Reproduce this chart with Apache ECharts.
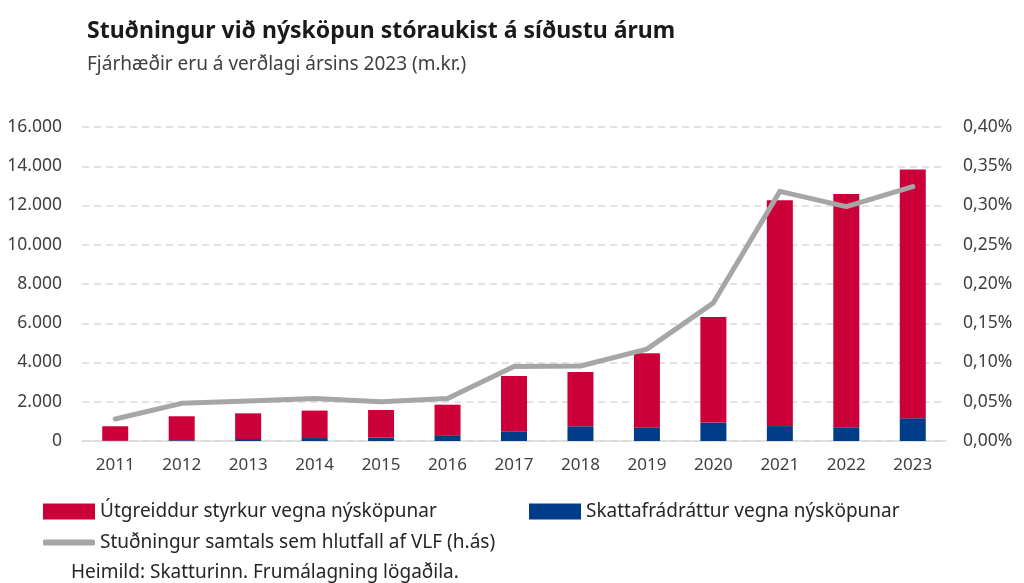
<!DOCTYPE html>
<html>
<head>
<meta charset="utf-8">
<script src="https://cdn.jsdelivr.net/npm/echarts@6/dist/echarts.min.js"></script>
<style>
  html, body { margin: 0; padding: 0; background: #fff; }
  #chart { width: 1024px; height: 583px; }
</style>
</head>
<body>
<div id="chart"></div>
<script>
// ár
var years = ['2011','2012','2013','2014','2015','2016','2017','2018','2019','2020','2021','2022','2023'];
// m.kr.
var styrkur = [740, 1220, 1310, 1400, 1410, 1590, 2820, 2770, 3790, 5380, 11510, 11890, 12670];
var skattafradrattur = [10, 40, 100, 150, 170, 260, 490, 750, 680, 940, 760, 700, 1160];
// % af VLF
var hlutfallVLF = [0.028, 0.048, 0.051, 0.054, 0.050, 0.054, 0.095, 0.0955, 0.117, 0.176, 0.318, 0.2985, 0.324];

var FONT = 'Noto Sans';
var chart = echarts.init(document.getElementById('chart'));

function thousands(v) {
  return String(v).replace(/\B(?=(\d{3})+(?!\d))/g, '.');
}

var legendText = { fontFamily: FONT, fontSize: 19, color: '#262626' };

chart.setOption({
  backgroundColor: '#fff',
  animation: false,
  title: [{
    text: 'Stuðningur við nýsköpun stóraukist á síðustu árum',
    left: 82, top: 15,
    textStyle: { fontFamily: FONT, fontSize: 23, fontWeight: 'bold', color: '#1a1a1a' }
  }, {
    text: 'Fjárhæðir eru á verðlagi ársins 2023 (m.kr.)',
    left: 82, top: 50,
    textStyle: { fontFamily: FONT, fontSize: 19, fontWeight: 'normal', color: '#404040' }
  }, {
    text: 'Heimild: Skatturinn. Frumálagning lögaðila.',
    left: 66, top: 558,
    textStyle: { fontFamily: FONT, fontSize: 19, fontWeight: 'normal', color: '#262626' }
  }],
  legend: [{
    data: ['Útgreiddur styrkur vegna nýsköpunar'],
    left: 38, top: 497,
    itemWidth: 52, itemHeight: 16, itemGap: 4,
    icon: 'rect',
    textStyle: legendText
  }, {
    data: ['Skattafrádráttur vegna nýsköpunar'],
    left: 524, top: 497,
    itemWidth: 52, itemHeight: 16,
    icon: 'rect',
    textStyle: legendText
  }, {
    data: ['Stuðningur samtals sem hlutfall af VLF (h.ás)'],
    left: 38, top: 528,
    itemWidth: 52, itemHeight: 6,
    icon: 'roundRect',
    textStyle: legendText
  }],
  grid: { left: 82, right: 78, top: 127, bottom: 142 },
  xAxis: {
    type: 'category',
    data: years,
    axisTick: { show: false },
    axisLine: { lineStyle: { color: '#d9d9d9', width: 1.5 } },
    axisLabel: { fontFamily: FONT, fontSize: 17, color: '#404040', margin: 16 }
  },
  yAxis: [{
    type: 'value',
    min: 0, max: 16000, interval: 2000,
    axisLabel: {
      fontFamily: FONT, fontSize: 17.5, color: '#404040', margin: 20,
      formatter: function (v) { return thousands(v); }
    },
    splitLine: { lineStyle: { color: '#d9d9d9', type: [7, 5], width: 1.5 } }
  }, {
    type: 'value',
    min: 0, max: 0.4, interval: 0.05,
    axisLabel: {
      fontFamily: FONT, fontSize: 17.5, color: '#404040', margin: 17,
      formatter: function (v) { return v.toFixed(2).replace('.', ',') + '%'; }
    },
    splitLine: { show: false }
  }],
  series: [{
    name: 'Skattafrádráttur vegna nýsköpunar',
    type: 'bar',
    stack: 'total',
    barWidth: 26,
    data: skattafradrattur,
    itemStyle: { color: '#003c88' }
  }, {
    name: 'Útgreiddur styrkur vegna nýsköpunar',
    type: 'bar',
    stack: 'total',
    barWidth: 26,
    data: styrkur,
    itemStyle: { color: '#cc0039' }
  }, {
    name: 'Stuðningur samtals sem hlutfall af VLF (h.ás)',
    type: 'line',
    yAxisIndex: 1,
    data: hlutfallVLF,
    symbol: 'none',
    z: 5,
    lineStyle: { color: '#a6a6a6', width: 5, cap: 'round', join: 'round' },
    itemStyle: { color: '#a6a6a6' }
  }]
});
</script>
</body>
</html>
